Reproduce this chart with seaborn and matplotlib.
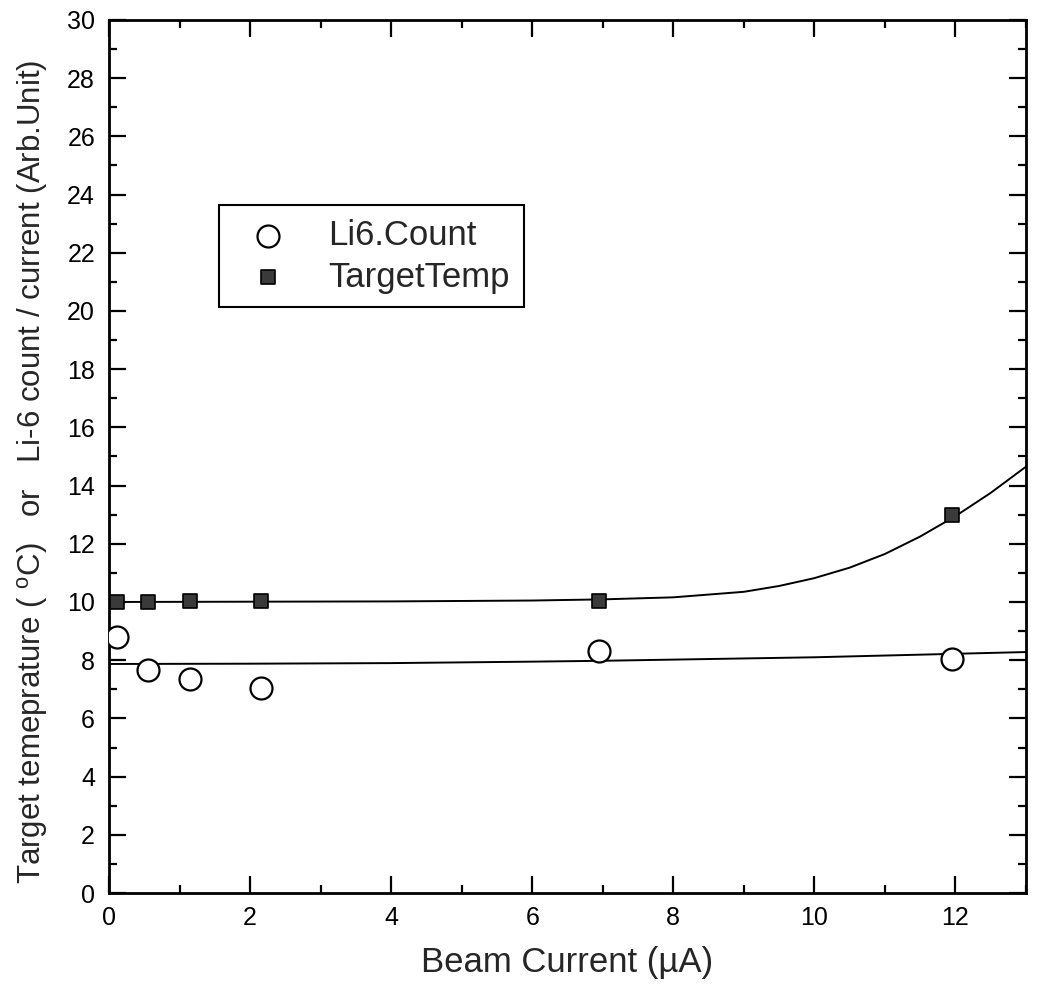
import numpy as np
import pandas as pd
import matplotlib
matplotlib.use("Agg")
import matplotlib.pyplot as plt
import seaborn as sns
from matplotlib.ticker import MultipleLocator

# ---- data ----
beam_current = [0.12, 0.55, 1.15, 2.15, 6.95, 11.95]
li6_count = [8.8, 7.65, 7.35, 7.05, 8.3, 8.05]
target_temp = [10.0, 10.0, 10.02, 10.03, 10.05, 13.0]

fit_x = [0, 2, 4, 6, 7, 8, 9, 9.5, 10, 10.5, 11, 11.5, 12, 12.5, 13]
li6_fit = [7.87, 7.88, 7.9, 7.95, 7.98, 8.02, 8.06, 8.08, 8.1, 8.13, 8.16, 8.19, 8.22, 8.25, 8.28]
temp_fit = [10.0, 10.01, 10.02, 10.05, 10.09, 10.16, 10.35, 10.55, 10.82, 11.18, 11.65, 12.25, 12.95, 13.75, 14.65]

x_ticks = [0, 2, 4, 6, 8, 10, 12]
y_ticks = list(range(0, 31, 2))

sns.set_style("ticks")
plt.rcParams['font.family'] = ['Liberation Sans', 'DejaVu Sans']
plt.rcParams['mathtext.fontset'] = 'custom'
plt.rcParams['mathtext.rm'] = 'Liberation Sans'

fig = plt.figure(figsize=(10.43, 9.97), dpi=100)
ax = fig.add_axes([0.1045, 0.1043, 0.8792, 0.8757])

sns.lineplot(x=fit_x, y=li6_fit, ax=ax, color='black', linewidth=1.4, legend=False)
sns.lineplot(x=fit_x, y=temp_fit, ax=ax, color='black', linewidth=1.4, legend=False)

sns.scatterplot(x=beam_current, y=li6_count, ax=ax, marker='o', s=250,
                facecolor='white', edgecolor='black', linewidth=1.6,
                label='Li6.Count', zorder=3)
sns.scatterplot(x=beam_current, y=target_temp, ax=ax, marker='s', s=95,
                color='#3a3a3a', edgecolor='black', linewidth=1.2,
                label='TargetTemp', zorder=3)

ax.set_xlim(0, 13)
ax.set_ylim(0, 30)
ax.set_xticks(x_ticks)
ax.set_yticks(y_ticks)
ax.xaxis.set_minor_locator(MultipleLocator(1))
ax.yaxis.set_minor_locator(MultipleLocator(1))
ax.tick_params(which='both', direction='in', top=True, right=True, width=1.6, colors='black')
ax.tick_params(which='major', length=12)
ax.tick_params(which='minor', length=6)
ax.tick_params(axis='x', which='major', labelsize=18, pad=9)
ax.tick_params(axis='y', which='major', labelsize=18, pad=10)
for sp in ax.spines.values():
    sp.set_visible(True)
    sp.set_linewidth(2.0)
    sp.set_color('black')

ax.set_xlabel('Beam Current (µA)', fontsize=25, labelpad=12)
ax.set_ylabel('Target temeprature ( $^{\\rm o}$C)   or   Li-6 count / current (Arb.Unit)',
              fontsize=22.5)
ax.yaxis.set_label_coords(-0.064, 0.483)

leg = ax.legend(loc='upper left', bbox_to_anchor=(0.12, 0.788), borderaxespad=0,
                frameon=True, fancybox=False, edgecolor='black', framealpha=1,
                fontsize=25, borderpad=0.4, handlelength=2.0, handletextpad=0.75,
                labelspacing=0.25)
leg.get_frame().set_linewidth(1.5)

fig.savefig('out.png', dpi=100, facecolor='white')
